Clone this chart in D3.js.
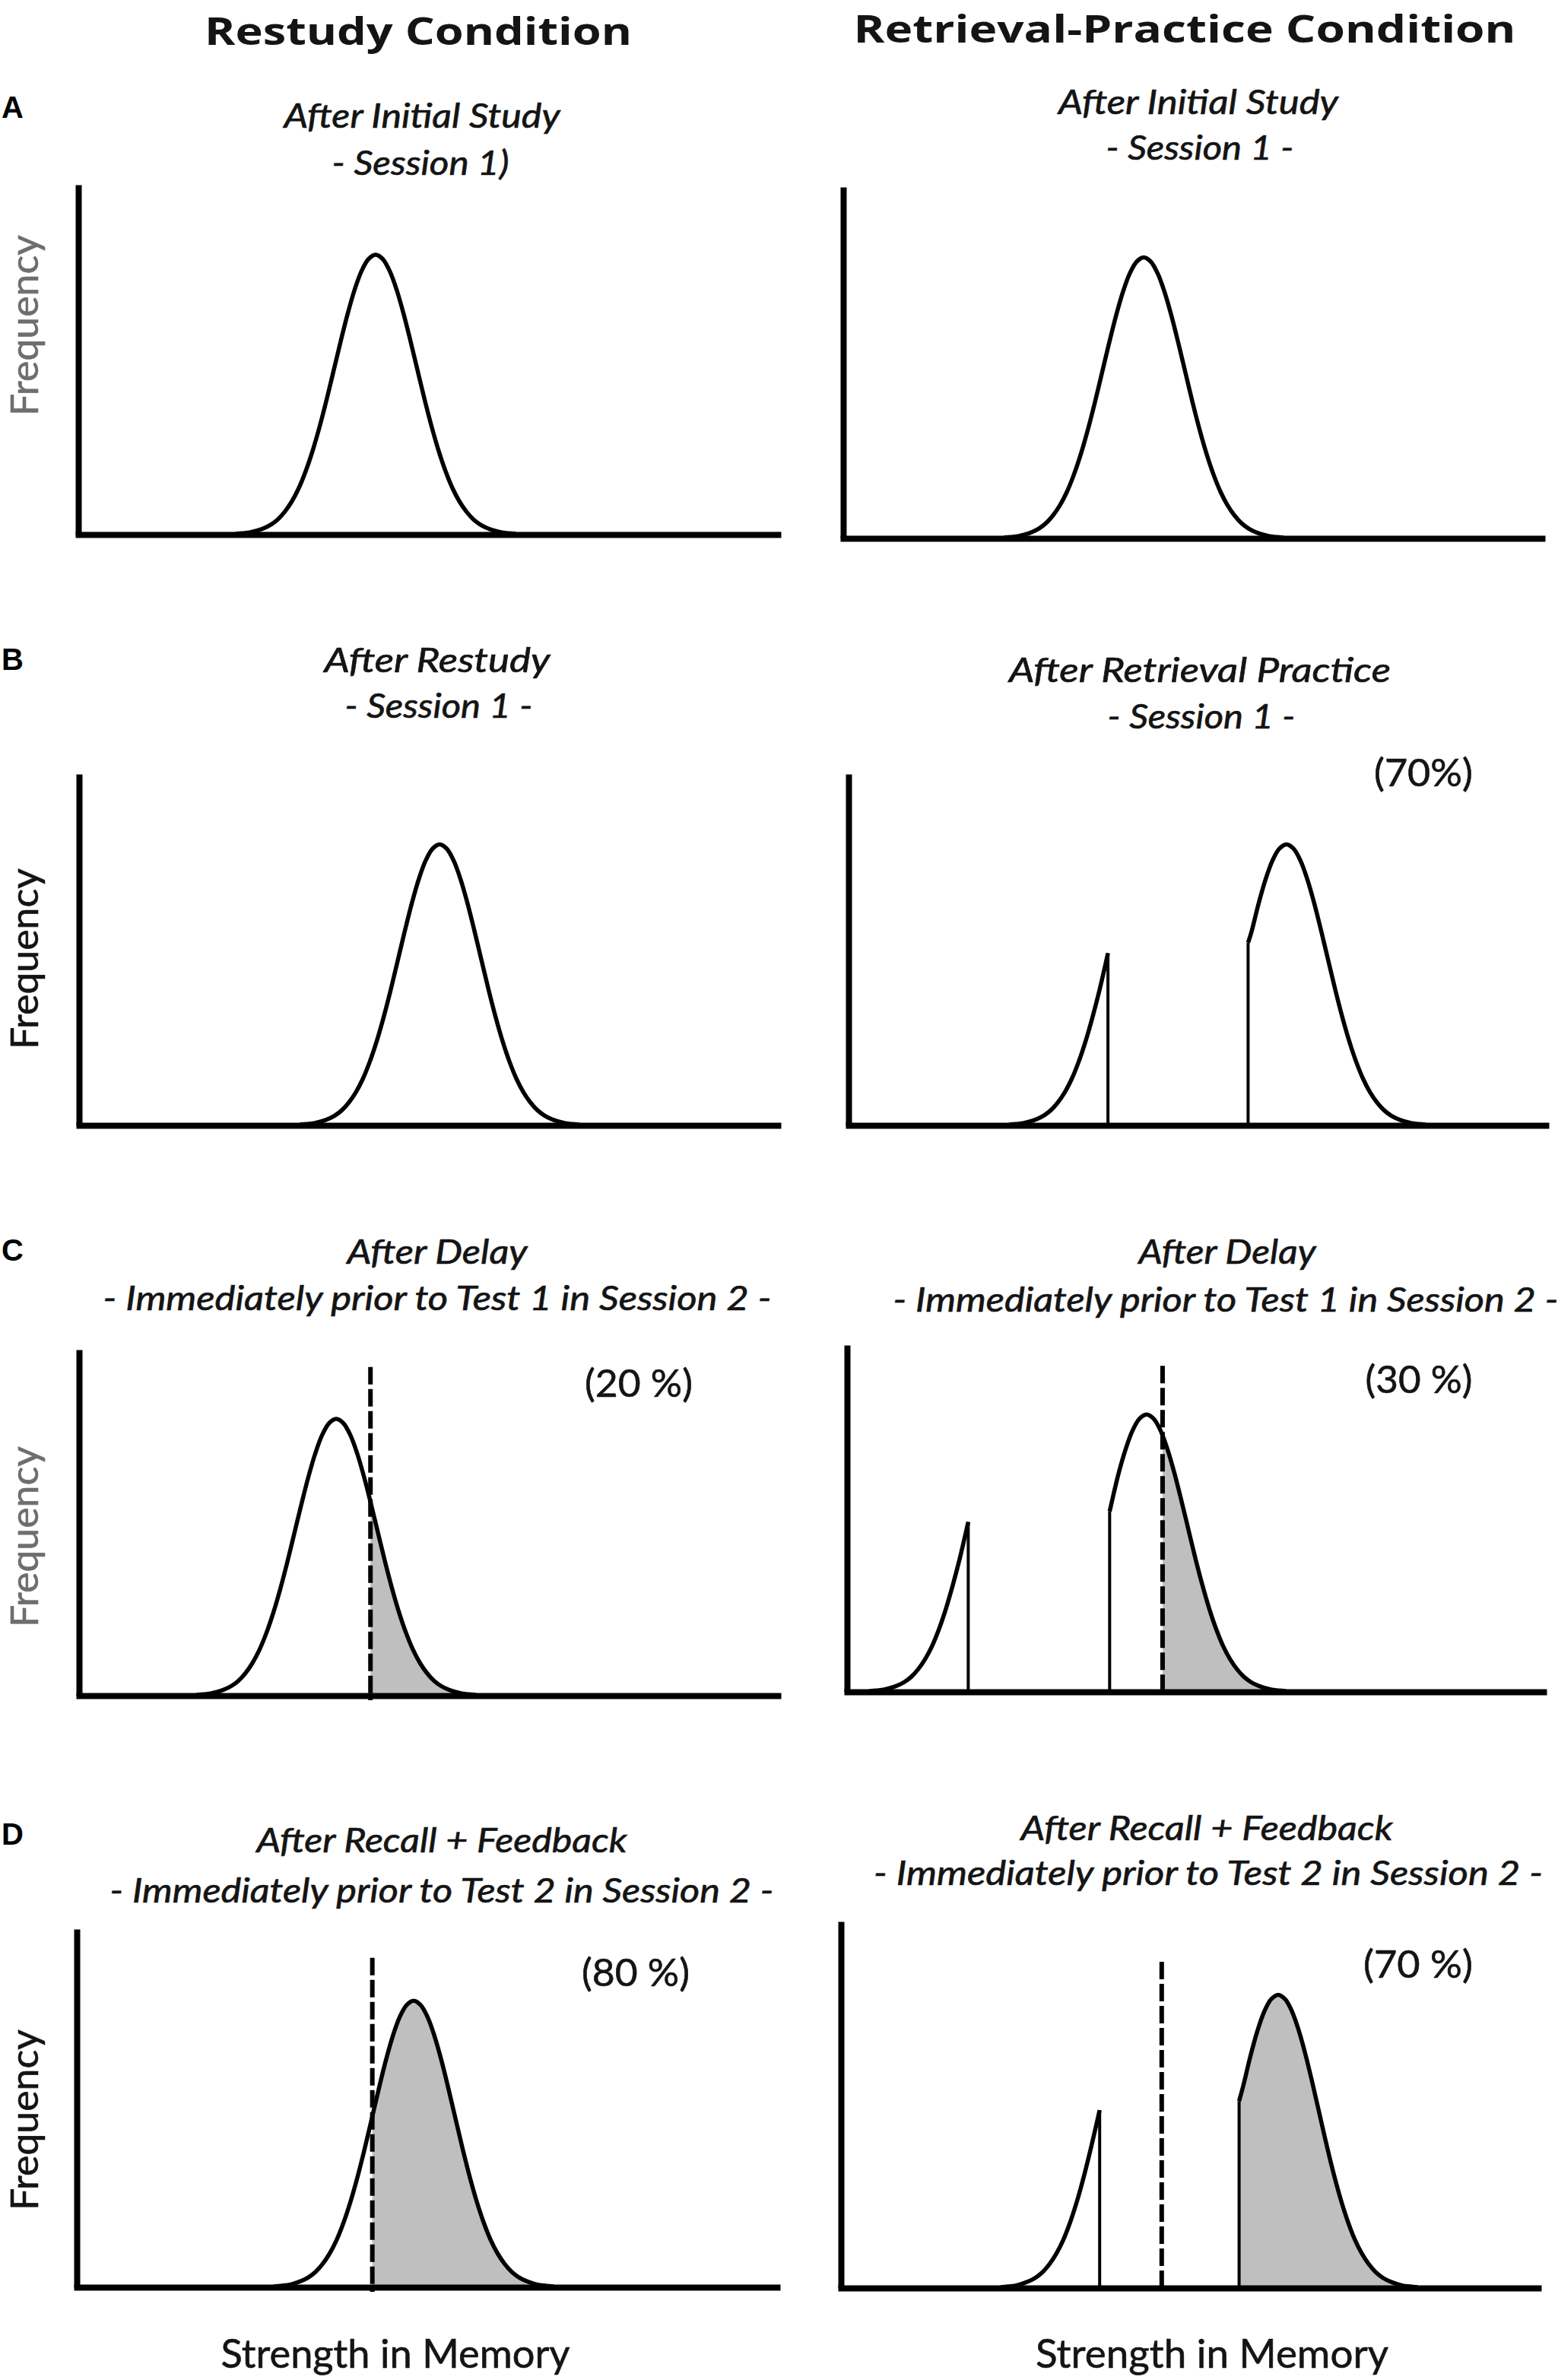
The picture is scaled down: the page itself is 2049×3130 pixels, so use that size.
<!DOCTYPE html>
<html>
<head>
<meta charset="utf-8">
<script src="https://cdn.jsdelivr.net/npm/d3@7"></script>
<style>
  body { margin: 0; background: #fff; }
  svg { display: block; }
</style>
</head>
<body>
<div id="chart"></div>
<script>
// ---- data ----
const conditionLabels = ["Restudy Condition", "Retrieval-Practice Condition"];
const rowLetters = ["A", "B", "C", "D"];
const yAxisLabel = "Frequency";
const xAxisLabel = "Strength in Memory";

// panels in reading order: row A..D, left (restudy) / right (retrieval practice)
const panelKeys = ["A-L", "A-R", "B-L", "B-R", "C-L", "C-R", "D-L", "D-R"];

const titleMain = [
  "After Initial Study", "After Initial Study",
  "After Restudy", "After Retrieval Practice",
  "After Delay", "After Delay",
  "After Recall + Feedback", "After Recall + Feedback",
];
const titleSub = [
  "- Session 1)", "- Session 1 -",
  "- Session 1 -", "- Session 1 -",
  "- Immediately prior to Test 1 in Session 2 -", "- Immediately prior to Test 1 in Session 2 -",
  "- Immediately prior to Test 2 in Session 2 -", "- Immediately prior to Test 2 in Session 2 -",
];
const percentLabels = [null, null, null, "(70%)", "(20 %)", "(30 %)", "(80 %)", "(70 %)"];

// bell-shaped strength distribution: offset from its centre (strength units)
// and relative frequency (1 = top of the y axis)
const bellOffsets = [-20, -19, -18, -17, -16, -15, -14, -13, -12, -11, -10, -9, -8, -7, -6, -5, -4, -3, -2, -1,
  0, 1, 2, 3, 4, 5, 6, 7, 8, 9, 10, 11, 12, 13, 14, 15, 16, 17, 18, 19, 20];
const bellHeights = [0.002, 0.004, 0.006, 0.011, 0.018, 0.028, 0.043, 0.065, 0.094, 0.132, 0.181, 0.240, 0.309, 0.386, 0.469, 0.552, 0.631, 0.700, 0.754, 0.788,
  0.800, 0.788, 0.754, 0.700, 0.631, 0.552, 0.469, 0.386, 0.309, 0.240, 0.181, 0.132, 0.094, 0.065, 0.043, 0.028, 0.018, 0.011, 0.006, 0.004, 0.002];

// each visible piece of a distribution: centre, optional cut on the left (from) or right (to),
// and the frequency at the cut edge
const curvePieces = [
  { panel: "A-L", mean: 42.5 },
  { panel: "A-R", mean: 43.0 },
  { panel: "B-L", mean: 51.6 },
  { panel: "B-R", mean: 43.0, to: 37.2, edge: 0.49 },
  { panel: "B-R", mean: 62.8, from: 57.3, edge: 0.52 },
  { panel: "C-L", mean: 36.8 },
  { panel: "C-R", mean: 23.2, to: 17.4, edge: 0.49 },
  { panel: "C-R", mean: 43.0, from: 37.7, edge: 0.52 },
  { panel: "D-L", mean: 48.1 },
  { panel: "D-R", mean: 42.9, to: 37.1, edge: 0.485 },
  { panel: "D-R", mean: 62.7, from: 57.1, edge: 0.51 },
];

// recall threshold (dashed line); items stronger than it are shaded
const thresholds = [
  { panel: "C-L", x: 41.7, top: 0.95 },
  { panel: "C-R", x: 45.3, top: 0.94 },
  { panel: "D-L", x: 42.2, top: 0.92 },
  { panel: "D-R", x: 46.0, top: 0.89 },
];

// ---- layout ----
const W = 2049, H = 3130;
const PANEL_BOX = {
  "A-L": { x0: 103, x1: 1023, top: 243, base: 703 },
  "A-R": { x0: 1109, x1: 2028, top: 246, base: 708 },
  "B-L": { x0: 104, x1: 1023, top: 1018, base: 1480 },
  "B-R": { x0: 1116, x1: 2033, top: 1018, base: 1480 },
  "C-L": { x0: 104, x1: 1023, top: 1775, base: 2230 },
  "C-R": { x0: 1114, x1: 2030, top: 1769, base: 2225 },
  "D-L": { x0: 101, x1: 1022, top: 2537, base: 3008 },
  "D-R": { x0: 1106, x1: 2023, top: 2527, base: 3009 },
};
// [centre x, baseline y, width]
const HEAD_POS = [[550, 59, 562], [1558, 56, 871]];
const LETTER_POS = [[2, 155], [2, 881], [2, 1658], [2, 2426]];
const MAIN_POS = [[555, 168, 363], [1576, 150, 368], [575, 884, 297], [1578, 897, 502],
  [575, 1662, 237], [1614, 1662, 233], [581, 2436, 487], [1587, 2420, 489]];
const SUB_POS = [[553, 230, 233], [1578, 210, 247], [577, 944, 247], [1580, 958, 247],
  [575, 1723, 879], [1612, 1725, 875], [581, 2502, 873], [1589, 2479, 880]];
const PCT_POS = [null, null, null, [1872, 1034, 130], [840, 1837, 142], [1866, 1832, 141],
  [836, 2612, 142], [1865, 2601, 144]];
const XLABEL_POS = [[520, 3114, 459], [1594, 3114, 464]];
const YLABEL_POS = [[50, 428], [50, 1261], [50, 2021], [50, 2788]];
const YLABEL_COLOR = ["#6e6e6e", "#141414", "#6e6e6e", "#141414"];

const FONT = "Lato, 'Open Sans', sans-serif";
const TEXT_COLOR = "#141414";
const SHADE = "#bfbfbf";

const svg = d3.select("#chart")
  .append("svg")
  .attr("width", W)
  .attr("height", H)
  .attr("viewBox", `0 0 ${W} ${H}`);

svg.append("rect").attr("width", W).attr("height", H).attr("fill", "#fff");

const addText = (x, y, text, opts) => {
  const color = opts.color || TEXT_COLOR;
  const t = svg.append("text")
    .attr("x", x)
    .attr("y", y)
    .attr("text-anchor", opts.anchor || "middle")
    .attr("font-family", opts.family || FONT)
    .attr("font-size", opts.size)
    .attr("font-weight", opts.weight || "normal")
    .attr("font-style", opts.style || "normal")
    .attr("fill", color)
    .text(text);
  if (opts.heavy) t.attr("stroke", color).attr("stroke-width", opts.heavy);
  if (opts.width) t.attr("textLength", opts.width).attr("lengthAdjust", "spacingAndGlyphs");
  if (opts.transform) t.attr("transform", opts.transform);
  return t;
};

// ---- headers and panel letters ----
conditionLabels.forEach((label, i) => {
  const [cx, y, w] = HEAD_POS[i];
  addText(cx, y, label, { size: 51, weight: "bold", width: w, family: "'Open Sans', Lato, sans-serif" });
});
rowLetters.forEach((letter, i) => {
  const [x, y] = LETTER_POS[i];
  addText(x, y, letter, { size: 40, weight: "bold", anchor: "start", family: "'Liberation Sans', Arial, sans-serif", color: "#000" });
});

// ---- y-axis labels ----
YLABEL_POS.forEach(([x, cy], i) => {
  addText(0, 0, yAxisLabel, {
    size: 51, width: 238, color: YLABEL_COLOR[i], heavy: 0.6,
    transform: `translate(${x},${cy}) rotate(-90)`,
  });
});

// ---- x-axis labels ----
XLABEL_POS.forEach(([cx, y, w]) => addText(cx, y, xAxisLabel, { size: 52, width: w, heavy: 0.6 }));

// ---- panels ----
panelKeys.forEach((key, pi) => {
  const box = PANEL_BOX[key];
  const x = d3.scaleLinear().domain([0, 100]).range([box.x0, box.x1]);
  const y = d3.scaleLinear().domain([0, 1]).range([box.base, box.top]);
  const g = svg.append("g").attr("class", `panel-${key}`);

  const threshold = thresholds.find((t) => t.panel === key);
  const pieces = curvePieces.filter((p) => p.panel === key);

  const line = d3.line().x((d) => x(d.s)).y((d) => y(d.f)).curve(d3.curveCatmullRom);
  const area = d3.area().x((d) => x(d.s)).y0(y(0)).y1((d) => y(d.f)).curve(d3.curveCatmullRom);

  if (threshold) {
    g.append("clipPath")
      .attr("id", `clip-${key}`)
      .append("rect")
      .attr("x", x(threshold.x))
      .attr("y", y(1))
      .attr("width", x(100) - x(threshold.x))
      .attr("height", y(0) - y(1));
  }

  const pieceData = pieces.map((p) => {
    const pts = bellOffsets
      .map((o, i) => ({ s: p.mean + o, f: bellHeights[i] }))
      .filter((d) => (p.from === undefined || d.s > p.from + 0.3) && (p.to === undefined || d.s < p.to - 0.3));
    if (p.from !== undefined) pts.unshift({ s: p.from, f: p.edge });
    if (p.to !== undefined) pts.push({ s: p.to, f: p.edge });
    return { piece: p, pts };
  });

  // shading beyond the threshold
  if (threshold) {
    g.selectAll("path.shade")
      .data(pieceData)
      .enter()
      .append("path")
      .attr("class", "shade")
      .attr("d", (d) => area(d.pts))
      .attr("fill", SHADE)
      .attr("clip-path", `url(#clip-${key})`);
  }

  // distribution outlines
  g.selectAll("path.curve")
    .data(pieceData)
    .enter()
    .append("path")
    .attr("class", "curve")
    .attr("d", (d) => line(d.pts))
    .attr("fill", "none")
    .attr("stroke", "#000")
    .attr("stroke-width", 5.5)
    .attr("stroke-linejoin", "round");

  // vertical edges where a distribution was cut
  g.selectAll("line.edge")
    .data(pieces.filter((p) => p.edge !== undefined))
    .enter()
    .append("line")
    .attr("class", "edge")
    .attr("x1", (p) => x(p.from !== undefined ? p.from : p.to))
    .attr("x2", (p) => x(p.from !== undefined ? p.from : p.to))
    .attr("y1", y(0))
    .attr("y2", (p) => y(p.edge))
    .attr("stroke", "#000")
    .attr("stroke-width", 4);

  // dashed threshold
  if (threshold) {
    g.append("line")
      .attr("x1", x(threshold.x))
      .attr("x2", x(threshold.x))
      .attr("y1", y(threshold.top))
      .attr("y2", y(0) + 6)
      .attr("stroke", "#000")
      .attr("stroke-width", 6)
      .attr("stroke-dasharray", "23 6");
  }

  // axes: plain L-shaped frame, no ticks
  const xAxis = d3.axisBottom(x).tickValues([]).tickSizeOuter(0);
  const yAxis = d3.axisLeft(y).tickValues([]).tickSizeOuter(0);
  g.append("g")
    .attr("transform", `translate(0,${box.base})`)
    .call(xAxis)
    .call((a) => a.select(".domain").attr("stroke", "#000").attr("stroke-width", 8).attr("stroke-linecap", "square"));
  g.append("g")
    .attr("transform", `translate(${box.x0},0)`)
    .call(yAxis)
    .call((a) => a.select(".domain").attr("stroke", "#000").attr("stroke-width", 8));

  // titles
  const [mx, my, mw] = MAIN_POS[pi];
  addText(mx, my, titleMain[pi], { size: 45, style: "italic", width: mw, heavy: 0.7 });
  const [sx, sy, sw] = SUB_POS[pi];
  addText(sx, sy, titleSub[pi], { size: 45, style: "italic", width: sw, heavy: 0.7 });
  if (percentLabels[pi]) {
    const [px, py, pw] = PCT_POS[pi];
    addText(px, py, percentLabels[pi], { size: 50, width: pw, heavy: 0.6 });
  }
});
</script>
</body>
</html>
